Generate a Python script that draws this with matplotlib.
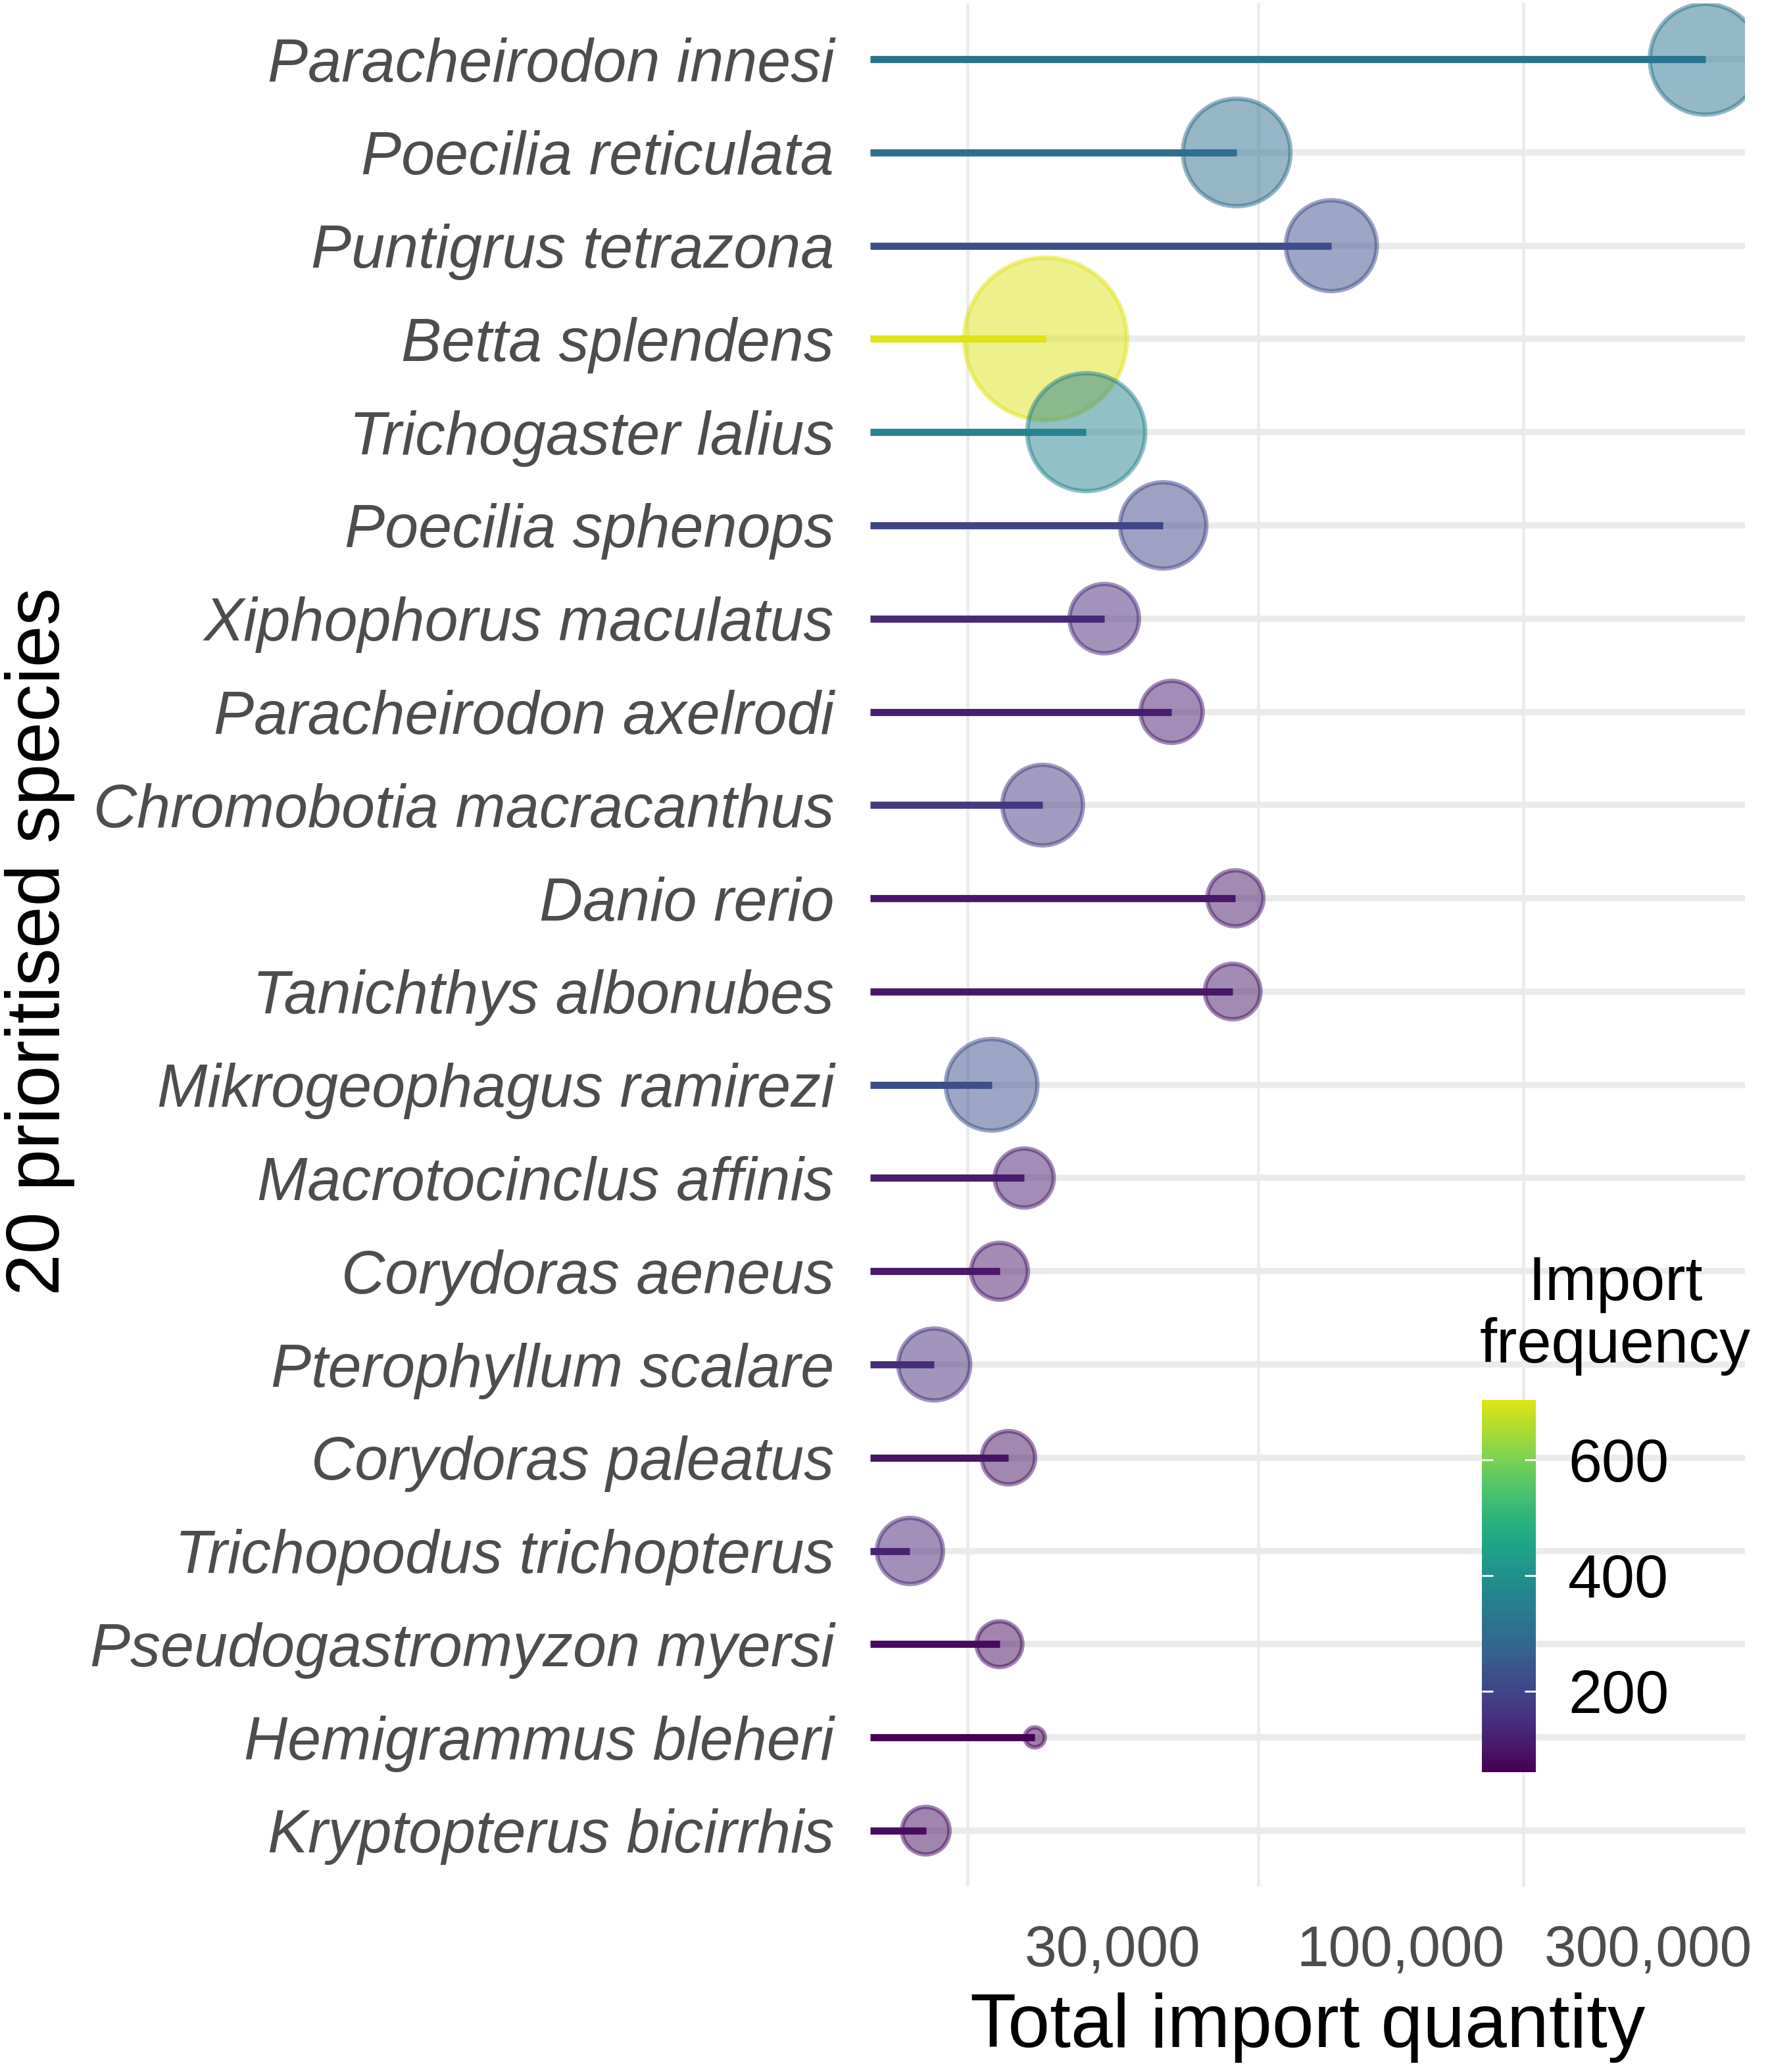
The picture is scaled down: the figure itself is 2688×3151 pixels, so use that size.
import numpy as np
import matplotlib
matplotlib.use("Agg")
import matplotlib.pyplot as plt
from matplotlib import colors
from matplotlib.cm import ScalarMappable
from matplotlib.ticker import NullLocator
from matplotlib.transforms import ScaledTranslation

# ---------------- data ----------------
species = [
    "Paracheirodon innesi", "Poecilia reticulata", "Puntigrus tetrazona",
    "Betta splendens", "Trichogaster lalius", "Poecilia sphenops",
    "Xiphophorus maculatus", "Paracheirodon axelrodi", "Chromobotia macracanthus",
    "Danio rerio", "Tanichthys albonubes", "Mikrogeophagus ramirezi",
    "Macrotocinclus affinis", "Corydoras aeneus", "Pterophyllum scalare",
    "Corydoras paleatus", "Trichopodus trichopterus", "Pseudogastromyzon myersi",
    "Hemigrammus bleheri", "Kryptopterus bicirrhis",
]
total_import_quantity = [
    637000, 91400, 135300, 41400, 49000, 67400, 52800, 69800, 40900, 90900,
    89900, 33100, 37900, 34200, 26100, 35500, 23600, 34200, 39600, 25200,
]
import_frequency = [
    320, 302, 219, 703, 363, 199, 137, 116, 176, 101,
    100, 222, 108, 103, 145, 95, 127, 81, 60, 84,
]
x_breaks = [30000, 100000, 300000]
x_break_labels = ["30,000", "100,000", "300,000"]
freq_breaks = [200, 400, 600]
x_title = "Total import quantity"
y_title = "20 prioritised species"
legend_title = ["Import", "frequency"]

# ---------------- figure ----------------
plt.rcParams['font.family'] = ['Liberation Sans', 'DejaVu Sans']
W, H, DPI = 2688, 3151, 300
fig = plt.figure(figsize=(W / DPI, H / DPI), dpi=DPI)
fig.patch.set_facecolor('white')


def rect(x0, y0, x1, y1):
    return [x0 / W, 1 - y1 / H, (x1 - x0) / W, (y1 - y0) / H]


P_L, P_T, P_R, P_B = 1323, 5, 2653, 2869
ax = fig.add_axes(rect(P_L, P_T, P_R, P_B))

n = len(species)
ypos = np.arange(n)
q = np.asarray(total_import_quantity, float)
f = np.asarray(import_frequency, float)
cmap = colors.ListedColormap(plt.get_cmap('viridis')(np.linspace(0.0, 0.95, 256)))
norm = colors.Normalize(vmin=f.min(), vmax=f.max())
cols = cmap(norm(f))

lo, hi = np.log10(q.min()), np.log10(q.max())
pad = 0.05 * (hi - lo)
xmin, xmax = 10 ** (lo - pad), 10 ** (hi + pad)
ax.set_xscale('log')
ax.set_xlim(xmin, xmax)
ax.set_ylim(n - 1 + 0.6, -0.6)

for s in ax.spines.values():
    s.set_visible(False)
ax.set_axisbelow(True)
ax.xaxis.set_minor_locator(NullLocator())
ax.xaxis.grid(True, color='#EBEBEB', lw=1.1)
ax.yaxis.grid(True, color='#EBEBEB', lw=2.3)

# segments
ax.hlines(ypos, xmin, q, colors=cols, lw=2.6, zorder=2, capstyle='butt')

# bubbles (size and colour both from import frequency)
d_px = 37 + 217 * np.sqrt(norm(f))
d_pt = d_px * 72 / DPI
edge_lw = 1.6
sizes = (d_pt - edge_lw) ** 2
rgba = cols.copy()
rgba[:, 3] = 0.5
ax.scatter(q, ypos, s=sizes, c=rgba, edgecolors=rgba, linewidths=edge_lw, zorder=3)

# y tick labels
ax.set_yticks(ypos, species)
for lbl in ax.get_yticklabels():
    lbl.set_fontstyle('italic')
    lbl.set_fontsize(22)
    lbl.set_color('#4D4D4D')
ax.tick_params(axis='y', length=0, pad=13.2)

# x tick labels
ax.set_xticks(x_breaks, x_break_labels)
ax.tick_params(axis='x', length=0, pad=13.9, labelsize=21, labelcolor='#4D4D4D')
label_shift_px = [220, 216, 190]
for lbl, dx in zip(ax.get_xticklabels(), label_shift_px):
    lbl.set_transform(lbl.get_transform() + ScaledTranslation(dx / DPI, 0, fig.dpi_scale_trans))

# axis titles
ax.set_xlabel(x_title, fontsize=27.5, color='black')
ax.xaxis.set_label_coords(0.5, -(3113 - P_B) / (P_B - P_T))
ax.xaxis.label.set_va('baseline')
ax.set_ylabel(y_title, fontsize=27.5, color='black')
ax.yaxis.set_label_coords((90 - P_L) / (P_R - P_L), (P_B - 1432) / (P_B - P_T))
ax.yaxis.label.set_va('baseline')

# colour bar legend
cax = fig.add_axes(rect(2253, 2129, 2335, 2695))
cb = fig.colorbar(ScalarMappable(norm=norm, cmap=cmap), cax=cax, ticks=freq_breaks)
cb.outline.set_visible(False)
cb.ax.minorticks_off()
cb.ax.tick_params(axis='y', which='major', direction='in', length=4, width=0.7,
                  color='white', left=True, right=True, labelleft=False,
                  labelright=True, labelsize=22, labelcolor='black', pad=11.8)
fig.text(2456 / W, 1 - 1977 / H, legend_title[0], ha='center', va='baseline',
         fontsize=22.5, color='black')
fig.text(2456 / W, 1 - 2072 / H, legend_title[1], ha='center', va='baseline',
         fontsize=22.5, color='black')

fig.savefig('out.png', dpi=DPI, facecolor='white')
